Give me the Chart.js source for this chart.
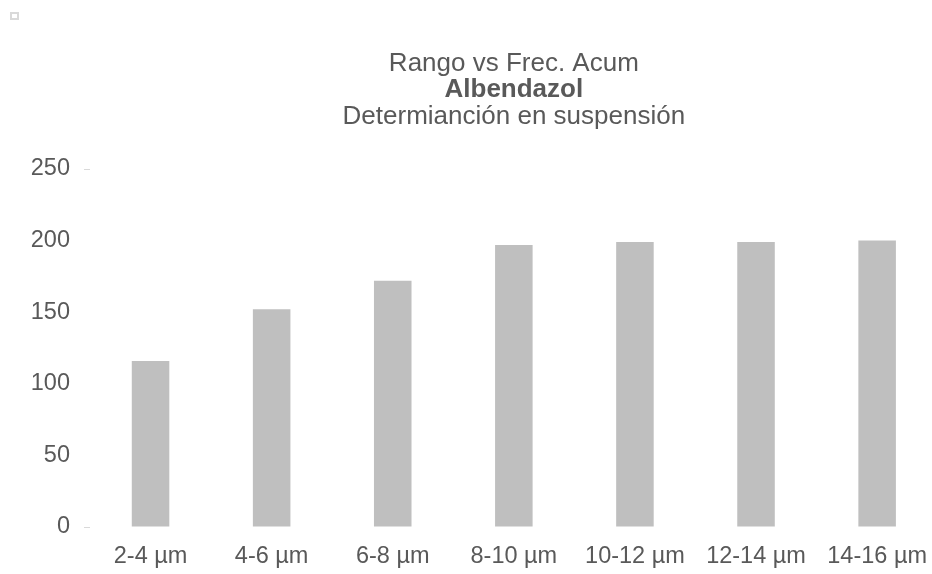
<!DOCTYPE html>
<html>
<head>
<meta charset="utf-8">
<script src="https://cdn.jsdelivr.net/npm/chart.js@4.4.1/dist/chart.umd.min.js"></script>
<style>
  html, body { margin: 0; padding: 0; background: #fff; overflow: hidden; }
  #wrap { position: relative; width: 942px; height: 574px; }
  #marker { position: absolute; left: 10px; top: 12px; width: 5px; height: 4px; border: 2px solid #d9d9d9; }
</style>
</head>
<body>
<div id="wrap">
  <canvas id="chart" width="942" height="574"></canvas>
  <div id="marker"></div>
</div>
<script>
// categories and cumulative frequency
const rangos = ["2-4 µm", "4-6 µm", "6-8 µm", "8-10 µm", "10-12 µm", "12-14 µm", "14-16 µm"];
const frecAcum = [116, 152, 172, 197, 199, 199, 200];
// title lines
const tituloLineas = ["Rango vs Frec. Acum", "Albendazol", "Determianción en suspensión"];

const textColor = "#595959";
const fontName = "'Liberation Sans', Arial, sans-serif";

//draws the three title lines centred over the plot area
const titlePlugin = {
  id: "tituloExcel",
  afterDraw(chart) {
    const ctx = chart.ctx;
    const cx = (chart.chartArea.left + chart.chartArea.right) / 2;
    const ys = [64, 90, 117];
    ctx.save();
    ctx.fillStyle = textColor;
    ctx.textAlign = "center";
    ctx.textBaseline = "middle";
    tituloLineas.forEach((t, i) => {
      ctx.font = (i === 1 ? "bold " : "") + "26px " + fontName;
      ctx.fillText(t, cx, ys[i]);
    });
    ctx.restore();
  }
};

new Chart(document.getElementById("chart"), {
  type: "bar",
  plugins: [titlePlugin],
  data: {
    labels: rangos,
    datasets: [{
      data: frecAcum,
      backgroundColor: "#bfbfbf",
      categoryPercentage: 1,
      barPercentage: 0.31
    }]
  },
  options: {
    responsive: false,
    animation: false,
    layout: { padding: { top: 169, right: 0, bottom: 6, left: 0 } },
    plugins: {
      legend: { display: false },
      tooltip: { enabled: false }
    },
    scales: {
      x: {
        afterFit: (scale) => { scale.height = 41; },
        grid: { display: false, drawTicks: false },
        border: { display: false },
        ticks: {
          color: textColor,
          font: { family: fontName, size: 23.5 },
          padding: 15,
          maxRotation: 0
        }
      },
      y: {
        min: 0,
        max: 250,
        afterFit: (scale) => { scale.width = 90; },
        grid: {
          drawOnChartArea: false,
          drawTicks: true,
          tickLength: 6,
          color: (c) => (c.tick && (c.tick.value === 0 || c.tick.value === 250)) ? "#d9d9d9" : "rgba(0,0,0,0)"
        },
        border: { display: false },
        ticks: {
          stepSize: 50,
          color: textColor,
          font: { family: fontName, size: 23.5 },
          padding: 14
        }
      }
    }
  }
});
</script>
</body>
</html>
